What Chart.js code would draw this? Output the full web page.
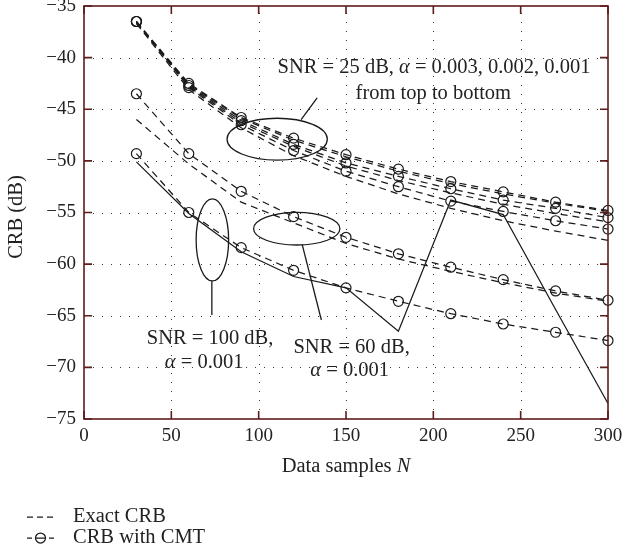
<!DOCTYPE html>
<html>
<head>
<meta charset="utf-8">
<script src="https://cdn.jsdelivr.net/npm/chart.js@4.4.1/dist/chart.umd.min.js"></script>
<style>
  html, body { margin: 0; padding: 0; background: #fff; }
  canvas { display: block; }
</style>
</head>
<body>
<canvas id="crb" width="624" height="556"></canvas>
<script>
// Number of data samples N at which the bounds were evaluated
const samplesN = [30, 60, 90, 120, 150, 180, 210, 240, 270, 300];

// SNR = 25 dB, alpha = 0.003 / 0.002 / 0.001
const cmtSnr25A003   = [-36.5, -42.5, -45.8, -47.8, -49.4, -50.8, -52.0, -53.0, -54.0, -54.8];
const exactSnr25A003 = [-36.6, -42.6, -45.9, -48.0, -49.6, -51.0, -52.2, -53.2, -54.1, -54.9];
const cmtSnr25A002   = [-36.5, -42.7, -46.1, -48.4, -50.2, -51.5, -52.7, -53.8, -54.6, -55.5];
const exactSnr25A002 = [-36.6, -42.8, -46.3, -48.6, -50.5, -51.9, -53.1, -54.2, -55.1, -55.9];
const cmtSnr25A001   = [-36.5, -42.9, -46.5, -49.0, -51.0, -52.5, -53.9, -54.9, -55.8, -56.6];
const exactSnr25A001 = [-36.7, -43.1, -46.8, -49.5, -51.5, -53.2, -54.6, -55.8, -56.8, -57.7];

// SNR = 60 dB, alpha = 0.001
const cmtSnr60   = [-43.5, -49.3, -52.95, -55.4, -57.4, -59.0, -60.3, -61.5, -62.6, -63.5];
const exactSnr60 = [-46.0, -50.3, -54.0, -56.0, -58.0, -59.5, -60.7, -61.8, -62.8, -63.6];

// SNR = 100 dB, alpha = 0.001
const cmtSnr100   = [-49.3, -55.0, -58.4, -60.6, -62.3, -63.6, -64.8, -65.8, -66.6, -67.4];
const exactSnr100 = [-50.1, -55.1, -58.8, -61.2, -62.3, -66.5, -53.8, -55.2, -64.4, -73.5];

// Axis ticks
const xTicks = [0, 50, 100, 150, 200, 250, 300];
const yTicks = [-35, -40, -45, -50, -55, -60, -65, -70, -75];

const SERIF = '"Liberation Serif", "DejaVu Serif", serif';
const INK = '#1a1a1a';
const FRAME = '#5e1c1c';
const DASH = [7, 5];

const pts = ys => samplesN.map((n, i) => ({ x: n, y: ys[i] }));

function exactSet(ys, solid) {
  return {
    data: pts(ys), borderColor: INK, borderWidth: 1.25,
    borderDash: solid ? [] : DASH, pointRadius: 0, tension: 0, clip: false, fill: false
  };
}
function cmtSet(ys) {
  return {
    data: pts(ys), borderColor: INK, borderWidth: 1.25, borderDash: DASH,
    pointRadius: 5, pointStyle: 'circle', pointBackgroundColor: 'rgba(0,0,0,0)',
    pointBorderColor: INK, pointBorderWidth: 1.2, tension: 0, clip: false, fill: false
  };
}

// Callout annotations, placed in data units (N, dB)
const notes = {
  ell25:  { cx: 110.6, cy: -47.9, rx: 28.7, ry: 2.03 },
  lead25: [[133.5, -43.9], [124.3, -46.0]],
  ell60:  { cx: 121.8, cy: -56.57, rx: 24.7, ry: 1.58 },
  lead60: [[124.9, -58.08], [135.9, -65.41]],
  ell100: { cx: 73.5, cy: -57.66, rx: 9.3, ry: 3.97 },
  lead100: [[73.2, -61.63], [73.2, -64.93]]
};

function ctxFont(italic) { return (italic ? 'italic ' : '') + '20.5px ' + SERIF; }

// Draw a line of text made of normal / italic runs, centred on (cx, cy)
function richText(ctx, runs, cx, cy) {
  let w = 0;
  runs.forEach(r => { ctx.font = ctxFont(r.i); r.w = ctx.measureText(r.t).width; w += r.w; });
  let x = cx - w / 2;
  ctx.textBaseline = 'middle';
  ctx.textAlign = 'left';
  runs.forEach(r => { ctx.font = ctxFont(r.i); ctx.fillText(r.t, x, cy); x += r.w; });
}

const framePlugin = {
  id: 'frame',
  beforeDatasetsDraw(chart) {
    const { ctx, chartArea: a, scales: { x, y } } = chart;
    ctx.save();
    ctx.strokeStyle = '#3a3a3a';
    ctx.lineWidth = 1;
    ctx.setLineDash([1, 8]);
    xTicks.forEach(v => {
      if (v <= x.min || v >= x.max) return;
      const px = Math.round(x.getPixelForValue(v)) + 0.5;
      ctx.beginPath(); ctx.moveTo(px, a.bottom); ctx.lineTo(px, a.top); ctx.stroke();
    });
    yTicks.forEach(v => {
      if (v <= y.min || v >= y.max) return;
      const py = Math.round(y.getPixelForValue(v)) + 0.5;
      ctx.beginPath(); ctx.moveTo(a.left, py); ctx.lineTo(a.right, py); ctx.stroke();
    });
    ctx.restore();
  },
  afterDatasetsDraw(chart) {
    const { ctx, chartArea: a, scales: { x, y } } = chart;
    ctx.save();
    ctx.strokeStyle = FRAME;
    ctx.lineWidth = 1.6;
    ctx.strokeRect(a.left, a.top, a.right - a.left, a.bottom - a.top);
    const tl = 8;
    ctx.beginPath();
    xTicks.forEach(v => {
      const px = x.getPixelForValue(v);
      ctx.moveTo(px, a.bottom); ctx.lineTo(px, a.bottom - tl);
      ctx.moveTo(px, a.top); ctx.lineTo(px, a.top + tl);
    });
    yTicks.forEach(v => {
      const py = y.getPixelForValue(v);
      ctx.moveTo(a.left, py); ctx.lineTo(a.left + tl, py);
      ctx.moveTo(a.right, py); ctx.lineTo(a.right - tl, py);
    });
    ctx.stroke();

    // callouts
    ctx.strokeStyle = INK;
    ctx.lineWidth = 1.3;
    const ell = e => {
      const px = x.getPixelForValue(e.cx), py = y.getPixelForValue(e.cy);
      const rx = Math.abs(x.getPixelForValue(e.cx + e.rx) - px);
      const ry = Math.abs(y.getPixelForValue(e.cy + e.ry) - py);
      ctx.beginPath(); ctx.ellipse(px, py, rx, ry, 0, 0, 2 * Math.PI); ctx.stroke();
    };
    const seg = s => {
      ctx.beginPath();
      ctx.moveTo(x.getPixelForValue(s[0][0]), y.getPixelForValue(s[0][1]));
      ctx.lineTo(x.getPixelForValue(s[1][0]), y.getPixelForValue(s[1][1]));
      ctx.stroke();
    };
    ell(notes.ell25); seg(notes.lead25);
    ell(notes.ell60); seg(notes.lead60);
    ell(notes.ell100); seg(notes.lead100);

    ctx.fillStyle = '#222';
    const at = (n, db) => [x.getPixelForValue(n), y.getPixelForValue(db)];
    let p = at(200.4, -41.0);
    richText(ctx, [{ t: 'SNR = 25 dB, ' }, { t: 'α', i: true }, { t: ' = 0.003, 0.002, 0.001' }], p[0], p[1]);
    p = at(200.0, -43.5);
    richText(ctx, [{ t: 'from top to bottom' }], p[0], p[1]);
    p = at(72.2, -67.2);
    richText(ctx, [{ t: 'SNR = 100 dB,' }], p[0], p[1]);
    p = at(68.8, -69.55);
    richText(ctx, [{ t: 'α', i: true }, { t: ' = 0.001' }], p[0], p[1]);
    p = at(153.2, -68.05);
    richText(ctx, [{ t: 'SNR = 60 dB,' }], p[0], p[1]);
    p = at(152.1, -70.3);
    richText(ctx, [{ t: 'α', i: true }, { t: ' = 0.001' }], p[0], p[1]);
    ctx.restore();
  },
  afterDraw(chart) {
    const { ctx, chartArea: a } = chart;
    ctx.save();
    ctx.fillStyle = '#222';
    // axis titles
    richText(ctx, [{ t: 'Data samples ' }, { t: 'N', i: true }], (a.left + a.right) / 2, 467);
    ctx.save();
    ctx.translate(17, 217);
    ctx.rotate(-Math.PI / 2);
    richText(ctx, [{ t: 'CRB (dB)' }], 0, 0);
    ctx.restore();

    // legend
    ctx.strokeStyle = INK;
    ctx.lineWidth = 1.25;
    const y1 = 517, y2 = 538;
    ctx.beginPath();
    [[27, 33], [37, 43], [47, 53]].forEach(d => { ctx.moveTo(d[0], y1); ctx.lineTo(d[1], y1); });
    [[27, 32], [35.5, 45.5], [49, 54]].forEach(d => { ctx.moveTo(d[0], y2); ctx.lineTo(d[1], y2); });
    ctx.stroke();
    ctx.beginPath(); ctx.arc(40.5, y2, 5, 0, 2 * Math.PI); ctx.stroke();
    ctx.textAlign = 'left';
    ctx.textBaseline = 'middle';
    ctx.font = ctxFont(false);
    ctx.fillText('Exact CRB', 73, y1);
    ctx.fillText('CRB with CMT', 73, y2);
    ctx.restore();
  }
};

const fmt = v => String(v).replace('-', '\u2212');

new Chart(document.getElementById('crb'), {
  type: 'line',
  data: {
    datasets: [
      exactSet(exactSnr25A003), cmtSet(cmtSnr25A003),
      exactSet(exactSnr25A002), cmtSet(cmtSnr25A002),
      exactSet(exactSnr25A001), cmtSet(cmtSnr25A001),
      exactSet(exactSnr60), cmtSet(cmtSnr60),
      exactSet(exactSnr100, true), cmtSet(cmtSnr100)
    ]
  },
  options: {
    responsive: false,
    animation: false,
    devicePixelRatio: 1,
    layout: { padding: { left: 0, right: 16, top: 6, bottom: 0 }, autoPadding: false },
    plugins: { legend: { display: false }, tooltip: { enabled: false } },
    scales: {
      x: {
        type: 'linear', min: 0, max: 300,
        afterFit(s) { s.height = 137; s.paddingLeft = 0; s.paddingRight = 0; },
        afterBuildTicks(s) { s.ticks = xTicks.map(v => ({ value: v })); },
        grid: { display: false, drawTicks: false },
        border: { display: false },
        ticks: { padding: 6, color: '#222', maxRotation: 0, autoSkip: false,
                 font: { family: SERIF, size: 19 }, callback: fmt }
      },
      y: {
        type: 'linear', min: -75, max: -35,
        afterFit(s) { s.width = 84; s.paddingTop = 0; s.paddingBottom = 0; },
        afterBuildTicks(s) { s.ticks = yTicks.map(v => ({ value: v })); },
        grid: { display: false, drawTicks: false },
        border: { display: false },
        ticks: { padding: 8, color: '#222', autoSkip: false,
                 font: { family: SERIF, size: 19 }, callback: fmt }
      }
    }
  },
  plugins: [framePlugin]
});
</script>
</body>
</html>
